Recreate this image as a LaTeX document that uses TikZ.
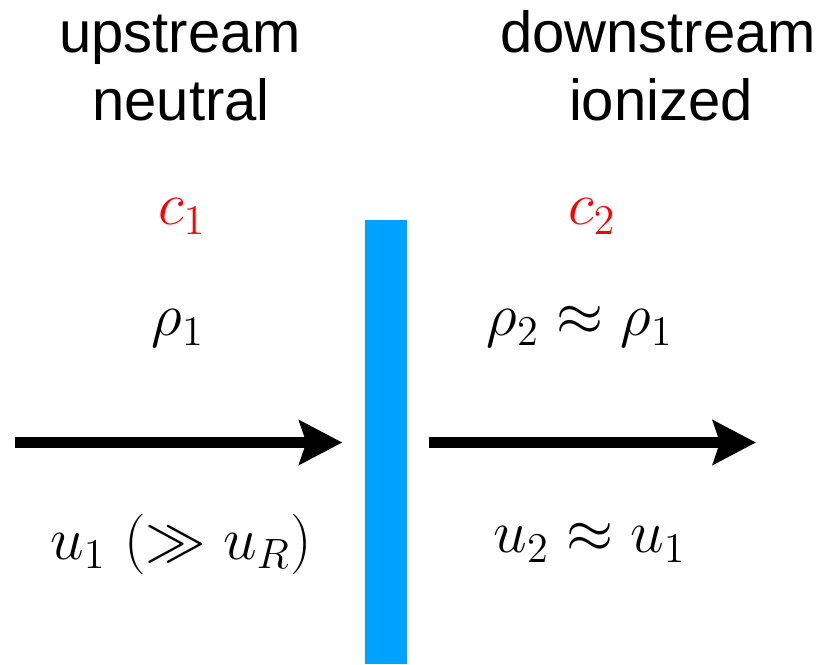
\RequirePackage{fix-cm}
\documentclass[tikz,border=0pt]{standalone}
\usepackage[no-math]{fontspec}
\newfontfamily\zonefont{Liberation Sans}
\usepackage{tikz}
\usetikzlibrary{arrows.meta}
\definecolor{shockblue}{HTML}{00A2FF}

\begin{document}
\begin{tikzpicture}[
    zone/.style={font=\zonefont\fontsize{16.5}{19.8}\selectfont, inner sep=0pt, anchor=base},
    qty/.style={font=\fontsize{17.2}{20.6}\selectfont, inner sep=0pt, anchor=base},
    shockbar/.style={rectangle, fill=shockblue, minimum width=0.42cm, minimum height=4.44cm, inner sep=0pt},
    flow/.style={draw, line width=0.11cm, -{Stealth[length=0.43cm, width=0.44cm, inset=0.07cm]}}
]
    \useasboundingbox (0,0) rectangle (8.23,6.64);

    % Ionization front
    \node[shockbar] (front) at (3.86,2.22) {};

    % Upstream column
    \node[zone] (upA) at (1.80,6.11) {upstream};
    \node[zone] (upB) at (1.81,5.43) {neutral};
    \node[qty, red] (c1) at (1.82,4.39) {$c_1$};
    \node[qty] (rho1) at (1.78,3.28) {$\rho_1$};
    \node[qty] (u1) at (1.81,1.05) {$u_1\ (\gg u_R)$};

    % Downstream column
    \node[zone] (downA) at (6.58,6.11) {downstream};
    \node[zone] (downB) at (6.61,5.43) {ionized};
    \node[qty, red] (c2) at (5.92,4.39) {$c_2$};
    \node[qty] (rho2) at (5.80,3.28) {$\rho_2 \approx \rho_1$};
    \node[qty] (u2) at (5.90,1.11) {$u_2 \approx u_1$};

    % Flow arrows
    \coordinate (inflow) at (0.15,2.215);
    \coordinate (outflow) at (7.56,2.215);
    \draw[flow, shorten >=0.22cm] (inflow) -- (front.west |- inflow);
    \draw[flow, shorten <=0.21cm] (front.east |- outflow) -- (outflow);
\end{tikzpicture}
\end{document}
